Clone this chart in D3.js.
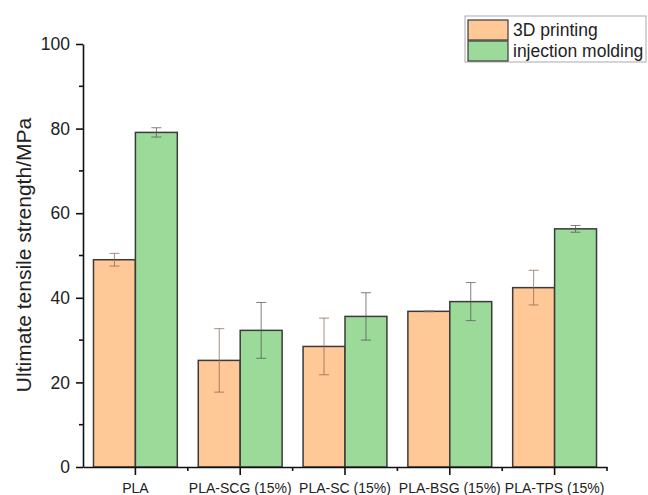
<!DOCTYPE html>
<html>
<head>
<meta charset="utf-8">
<script src="https://cdn.jsdelivr.net/npm/d3@7"></script>
<style>
  body { margin: 0; background: #fff; }
  svg { display: block; font-family: "Liberation Sans", Arial, sans-serif; }
</style>
</head>
<body>
<div id="chart"></div>
<script>
// data
const categories = ["PLA", "PLA-SCG (15%)", "PLA-SC (15%)", "PLA-BSG (15%)", "PLA-TPS (15%)"];
const seriesNames = ["3D printing", "injection molding"];
const printingValues = [49.0, 25.2, 28.5, 36.8, 42.4];
const printingErrors = [1.5, 7.5, 6.7, 0.1, 4.1];
const moldingValues = [79.1, 32.3, 35.6, 39.1, 56.3];
const moldingErrors = [1.1, 6.6, 5.6, 4.5, 0.8];
const yTicks = [0, 20, 40, 60, 80, 100];
const yMinorTicks = [10, 30, 50, 70, 90];

const colours = ["#FFC896", "#9CDA9A"];

const width = 648, height = 495;
const margin = { top: 44, right: 41, bottom: 28, left: 83 };

const svg = d3.select("#chart").append("svg")
  .attr("width", width)
  .attr("height", height);

const innerW = width - margin.left - margin.right;
const innerH = height - margin.top - margin.bottom;

const chart = svg.append("g")
  .attr("transform", `translate(${margin.left},${margin.top})`);

const x = d3.scaleBand().domain(categories).range([0, innerW]).padding(0);
const xSub = d3.scaleBand().domain(seriesNames).range([0, x.bandwidth()]).paddingOuter(0.25).paddingInner(0);
const y = d3.scaleLinear().domain([0, 100]).range([innerH, 0]);

const series = [
  { name: seriesNames[0], values: printingValues, errors: printingErrors },
  { name: seriesNames[1], values: moldingValues, errors: moldingErrors },
];

const rows = [];
series.forEach((s, si) => {
  categories.forEach((c, i) => {
    rows.push({ cat: c, name: s.name, si: si, v: s.values[i], e: s.errors[i] });
  });
});

// bars
chart.selectAll(".bar")
  .data(rows)
  .join("rect")
  .attr("class", "bar")
  .attr("x", d => x(d.cat) + xSub(d.name))
  .attr("y", d => y(d.v))
  .attr("width", xSub.bandwidth())
  .attr("height", d => y(0) - y(d.v))
  .attr("fill", d => colours[d.si])
  .attr("stroke", "#3a3a3a")
  .attr("stroke-width", 1.5);

// error bars
const eb = chart.selectAll(".err")
  .data(rows)
  .join("g")
  .attr("class", "err")
  .attr("transform", d => `translate(${x(d.cat) + xSub(d.name) + xSub.bandwidth() / 2},0)`)
  .attr("stroke", d => d.si === 0 ? "#8a6a55" : "#555")
  .attr("stroke-opacity", 0.75)
  .attr("stroke-width", 1);

eb.append("line")
  .attr("y1", d => y(d.v + d.e))
  .attr("y2", d => y(d.v - d.e));
eb.append("line")
  .attr("x1", -5).attr("x2", 5)
  .attr("y1", d => y(d.v + d.e)).attr("y2", d => y(d.v + d.e));
eb.append("line")
  .attr("x1", -5).attr("x2", 5)
  .attr("y1", d => y(d.v - d.e)).attr("y2", d => y(d.v - d.e));

// y axis
const yAxis = chart.append("g")
  .call(d3.axisLeft(y).tickValues(yTicks).tickSize(7).tickPadding(6).tickSizeOuter(0));
yAxis.select(".domain").attr("stroke", "#111").attr("stroke-width", 1.6);
yAxis.selectAll(".tick line").attr("stroke", "#111").attr("stroke-width", 1.6);
yAxis.selectAll("text").attr("font-size", 17.5).attr("fill", "#222")
  .attr("font-family", "Liberation Sans, Arial, sans-serif");

chart.append("g")
  .selectAll("line")
  .data(yMinorTicks)
  .join("line")
  .attr("x1", -4).attr("x2", 0)
  .attr("y1", d => y(d)).attr("y2", d => y(d))
  .attr("stroke", "#111").attr("stroke-width", 1.6);

// x axis
const xAxis = chart.append("g")
  .attr("transform", `translate(0,${innerH})`)
  .call(d3.axisBottom(x).tickSize(8).tickPadding(8).tickSizeOuter(0));
xAxis.select(".domain").attr("stroke", "#111").attr("stroke-width", 1.6);
xAxis.selectAll(".tick line").attr("stroke", "#111").attr("stroke-width", 1.6);
xAxis.selectAll("text").attr("font-size", 14).attr("fill", "#222")
  .attr("font-family", "Liberation Sans, Arial, sans-serif");

// minor ticks on x between groups
chart.append("g")
  .attr("transform", `translate(0,${innerH})`)
  .selectAll("line")
  .data(categories.slice(1).concat(["end"]))
  .join("line")
  .attr("x1", d => d === "end" ? innerW : x(d))
  .attr("x2", d => d === "end" ? innerW : x(d))
  .attr("y1", 0).attr("y2", 4)
  .attr("stroke", "#111").attr("stroke-width", 1.6);

// y label
svg.append("text")
  .attr("transform", `translate(31,255) rotate(-90)`)
  .attr("text-anchor", "middle")
  .attr("font-size", 21)
  .attr("fill", "#222")
  .text("Ultimate tensile strength/MPa");

// legend
const legend = svg.append("g").attr("transform", "translate(465,16)");
legend.append("rect")
  .attr("width", 181).attr("height", 46)
  .attr("fill", "#fff").attr("stroke", "#aaa").attr("stroke-width", 1);

legend.selectAll(".sw")
  .data(seriesNames)
  .join("rect")
  .attr("class", "sw")
  .attr("x", 3)
  .attr("y", (d, i) => 4 + i * 21)
  .attr("width", 40).attr("height", 20)
  .attr("fill", (d, i) => colours[i])
  .attr("stroke", "#3a3a3a").attr("stroke-width", 1.2);

legend.selectAll(".lt")
  .data(seriesNames)
  .join("text")
  .attr("class", "lt")
  .attr("x", 48)
  .attr("y", (d, i) => 20 + i * 21)
  .attr("font-size", 17.5)
  .attr("fill", "#222")
  .text(d => d);
</script>
</body>
</html>
